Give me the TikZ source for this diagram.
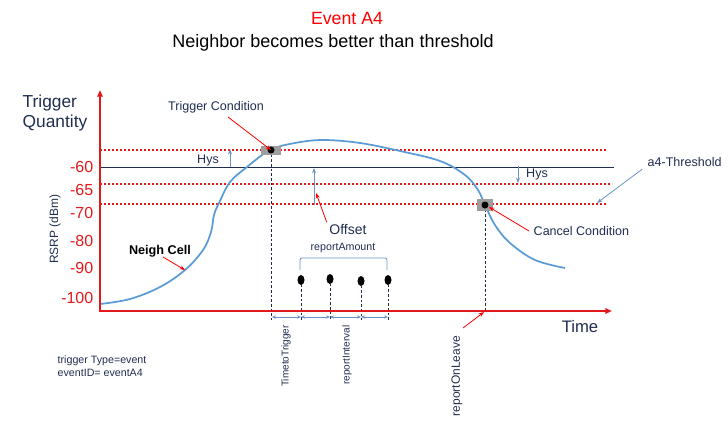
\documentclass[tikz,border=0pt]{standalone}
\usepackage{fontspec}
\setmainfont{Liberation Sans}
\usetikzlibrary{arrows.meta}
\definecolor{axisred}{HTML}{E2191B}
\definecolor{textnavy}{HTML}{1F2D50}
\definecolor{curveblue}{HTML}{5B9BD5}
\definecolor{hysblue}{HTML}{6A93C6}
\tikzset{
  axisline/.style={axisred,line width=1.6pt,-{Triangle[length=5pt,width=4pt]}},
  thresh/.style={axisred,line width=1.1pt,dash pattern=on 1.4pt off 1.6pt},
  dropline/.style={textnavy,line width=0.6pt,dash pattern=on 2pt off 1.5pt},
  callout/.style={red,line width=0.6pt,-{Stealth[length=4pt,width=3pt]}},
  hysarrow/.style={hysblue,line width=0.6pt,-{Stealth[length=4pt,width=3pt]}},
  gaparrow/.style={hysblue,line width=0.6pt,{Stealth[length=3pt,width=2.5pt]}-{Stealth[length=3pt,width=2.5pt]}},
  lbl/.style={textnavy,font=\fontsize{9.4}{11}\selectfont},
  yticklbl/.style={axisred,font=\fontsize{12}{14}\selectfont,anchor=east},
  hitbox/.style={fill=black!38},
}
\begin{document}
\begin{tikzpicture}[x=0.75pt,y=-0.75pt]
\useasboundingbox (0,0) rectangle (728,422);
\node (title) at (347,18) {\fontsize{13.3}{15}\selectfont\color{red}Event A4};
\node (subtitle) at (333,43) {\fontsize{13.5}{15}\selectfont Neighbor becomes better than threshold};
\node[textnavy,align=left,anchor=west,font=\fontsize{13}{15}\selectfont] (quantity) at (18,113) {Trigger\\Quantity};
\node[textnavy,rotate=90,font=\fontsize{9}{10}\selectfont] (rsrp) at (55,229) {RSRP (dBm)};
\node[yticklbl] (t60) at (98,167) {-60};
\node[yticklbl] (t65) at (98,190) {-65};
\node[yticklbl] (t70) at (98,213) {-70};
\node[yticklbl] (t80) at (98,241) {-80};
\node[yticklbl] (t90) at (98,268) {-90};
\node[yticklbl] (t100) at (98,298) {-100};
\draw[thresh] (100,150) -- (607,150);
\draw[thresh] (100,184) -- (612,184);
\draw[thresh] (100,204) -- (607,204);
\draw[textnavy,line width=0.6pt] (100,167) -- (614,167);
\draw[curveblue,line width=1.3pt] plot[smooth,tension=0.6] coordinates {(100,304) (130,299) (160,287) (185,270) (203,250) (211,232) (214,215) (219,203) (230,182) (247,167) (270,150) (295,143) (323,140) (360,143) (400,151) (440,161) (465,175) (478,190) (485,205) (495,225) (510,243) (535,260) (565,268)};
\coordinate (trig) at (271,150);
\coordinate (cancel) at (485,205);
\draw[dropline] (trig) -- (271,320);
\draw[dropline] (cancel) -- (485,311);
\fill[hitbox] (261,146) rectangle (281,155);
\fill[hitbox] (477,199) rectangle (493,211);
\fill (trig) circle (3.5);
\fill (cancel) circle (3.5);
\foreach \px/\py in {301/280,330/279,361/281,388/280}{
  \draw[dropline] (\px,\py) -- (\px,320);
  \fill (\px,\py) ellipse (3.5 and 5);
}
\draw[axisline] (100,311) -- (100,90);
\draw[axisline] (99,311) -- (612,311);
\draw[gaparrow] (272,317) -- (301,317);
\draw[gaparrow] (301,317) -- (330,317);
\draw[gaparrow] (330,317) -- (361,317);
\draw[gaparrow] (361,317) -- (388,317);
\draw[hysarrow] (230,167) -- (230,149);
\node[lbl] (hysl) at (208,160) {Hys};
\draw[hysarrow] (518,166) -- (518,183);
\node[lbl] (hysr) at (537,174) {Hys};
\draw[hysarrow] (314,205) -- (314,168);
\node[textnavy,font=\fontsize{10.5}{12}\selectfont] (offset) at (348,229) {Offset};
\draw[callout] (offset.north west) ++(2,3) -- (316,193);
\node[textnavy,font=\fontsize{8}{10}\selectfont] (amount) at (343,248) {reportAmount};
\draw[hysblue,line width=0.6pt,rounded corners=1.5pt] (300,270) -- (300,258) -- (387,258) -- (387,270);
\node[lbl] (trigcond) at (216,107) {Trigger Condition};
\draw[callout] (228,117) -- (trig);
\node[lbl,anchor=west] (cancelcond) at (529,231) {Cancel Condition};
\draw[callout] (cancelcond.west) -- (489,207);
\node[lbl,anchor=west] (a4thr) at (643,162) {a4-Threshold};
\draw[hysarrow] (a4thr.south west) ++(-1,-2) -- (597,203);
\node[font=\bfseries\fontsize{9.5}{11}\selectfont] (neigh) at (160,251) {Neigh Cell};
\draw[callout] (163,257) -- (185,270);
\node[textnavy,font=\fontsize{12.5}{14}\selectfont] (time) at (580,327) {Time};
\node[textnavy,rotate=90,font=\fontsize{7.5}{9}\selectfont] (ttt) at (286,356) {TimetoTrigger};
\node[textnavy,rotate=90,font=\fontsize{7.5}{9}\selectfont] (interval) at (347,355) {reportInterval};
\node[textnavy,rotate=90,font=\fontsize{9}{10}\selectfont] (onleave) at (457,376) {reportOnLeave};
\draw[callout] (463,328) -- (484,312);
\node[textnavy,align=left,anchor=north west,font=\fontsize{8}{10}\selectfont] (trigtype) at (53,351) {trigger Type=event\\eventID= eventA4};
\end{tikzpicture}
\end{document}
